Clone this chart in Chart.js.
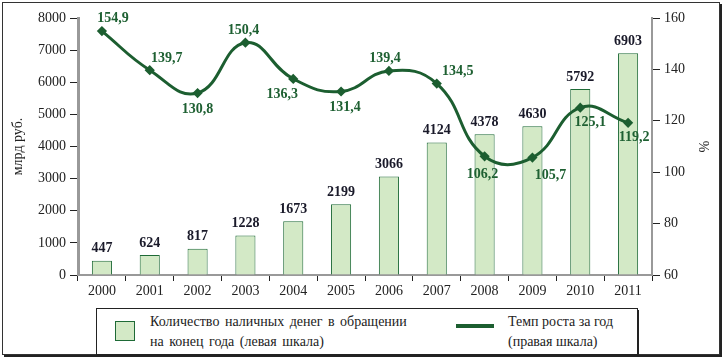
<!DOCTYPE html>
<html>
<head>
<meta charset="utf-8">
<script src="https://cdn.jsdelivr.net/npm/chart.js@4"></script>
<style>
  body { margin: 0; background: #fff; font-family: "Liberation Serif", serif; }
  #frame { position: absolute; left: 2px; top: 2px; width: 716px; height: 351px; border: 1px solid #333; box-shadow: 2px 2px 0 #222; }
  #wrap { position: absolute; left: 0; top: 0; width: 728px; height: 305px; }
  #legend { position: absolute; left: 96px; top: 308px; width: 540px; height: 45px; border: 1px solid #222; box-shadow: 1px 2px 0 #222; font-size: 14px; color: #222; }
  .swatch { position: absolute; left: 18px; top: 12px; width: 18px; height: 18px; background: #d3e9c6; border: 1px solid #1e6a36; }
  .lineSample { position: absolute; left: 359px; top: 15px; width: 38px; height: 4px; background: #1c5e30; }
  .txt { position: absolute; line-height: 20px; }
</style>
</head>
<body>
<div id="frame"></div>
<div id="wrap"><canvas id="chart"></canvas></div>
<div id="legend">
  <div class="swatch"></div>
  <div class="txt" style="left:53px; top:3px; word-spacing:2px;">Количество наличных денег в обращении<br>на конец года (левая шкала)</div>
  <div class="lineSample"></div>
  <div class="txt" style="left:411px; top:3px;">Темп роста за год<br>(правая шкала)</div>
</div>
<script>
// Chart data
const years = ['2000', '2001', '2002', '2003', '2004', '2005', '2006', '2007', '2008', '2009', '2010', '2011'];
const cashAmount = [447, 624, 817, 1228, 1673, 2199, 3066, 4124, 4378, 4630, 5792, 6903];
const growthRate = [154.9, 139.7, 130.8, 150.4, 136.3, 131.4, 139.4, 134.5, 106.2, 105.7, 125.1, 119.2];

// label offsets for the growth line (dx, dy from the point)
const rateLabelOffsets = [[11, -13], [17, -12], [0, 16], [-2, -12], [-11, 15], [4, 16],
  [-4, -13], [21, -12], [-2, 18], [18, 18], [10, 15], [6, 15]];

const fmt = (v) => v.toFixed(1).replace('.', ',');

Chart.defaults.font.family = '"Liberation Serif", serif';

// Draw value labels
const valueLabels = {
  id: 'valueLabels',
  afterDatasetsDraw(chart) {
    const ctx = chart.ctx;
    ctx.save();
    ctx.textAlign = 'center';
    ctx.textBaseline = 'middle';
    ctx.font = 'bold 14px "Liberation Serif"';

    ctx.fillStyle = '#1a1a2a';
    chart.getDatasetMeta(0).data.forEach((bar, i) => {
      ctx.fillText(String(cashAmount[i]), bar.x, bar.y - 12);
    });

    ctx.fillStyle = '#1e6032';
    chart.getDatasetMeta(1).data.forEach((pt, i) => {
      const off = rateLabelOffsets[i];
      ctx.fillText(fmt(growthRate[i]), pt.x + off[0], pt.y + off[1]);
    });
    ctx.restore();
  }
};

const tickFont = { family: '"Liberation Serif", serif', size: 14 };

new Chart(document.getElementById('chart'), {
  type: 'bar',
  data: {
    labels: years,
    datasets: [
      {
        type: 'bar',
        label: 'Количество наличных денег в обращении на конец года (левая шкала)',
        data: cashAmount,
        yAxisID: 'y',
        backgroundColor: '#d3e9c6',
        borderColor: '#1e6a36',
        borderWidth: 1,
        barPercentage: 0.42,
        categoryPercentage: 1,
        order: 2
      },
      {
        type: 'line',
        label: 'Темп роста за год (правая шкала)',
        data: growthRate,
        yAxisID: 'y1',
        borderColor: '#1c5e30',
        backgroundColor: '#1c5e30',
        borderWidth: 3,
        tension: 0.45,
        pointStyle: 'rectRot',
        pointRadius: 3,
        pointHoverRadius: 3,
        order: 1
      }
    ]
  },
  options: {
    responsive: true,
    maintainAspectRatio: false,
    animation: false,
    layout: { padding: { left: 0, right: 0, top: 18, bottom: 0 } },
    plugins: {
      legend: { display: false },
      tooltip: { enabled: false }
    },
    scales: {
      x: {
        offset: true,
        afterFit: (s) => { s.height = 30; },
        grid: { offset: true, drawOnChartArea: false, color: '#222', tickLength: 6 },
        border: { color: '#999', width: 2 },
        ticks: { color: '#222', font: tickFont, padding: 2 }
      },
      y: {
        position: 'left',
        min: 0,
        max: 8000,
        afterFit: (s) => { s.width = 78; },
        ticks: { stepSize: 1000, color: '#222', font: tickFont, padding: 4, callback: (v) => String(v) },
        grid: { drawOnChartArea: false, color: '#222', tickLength: 8 },
        border: { color: '#999', width: 3 },
        title: { display: true, text: 'млрд руб.', color: '#222', font: { family: '"Liberation Serif", serif', size: 14 }, padding: { top: 10, bottom: 0 } }
      },
      y1: {
        position: 'right',
        min: 60,
        max: 160,
        afterFit: (s) => { s.width = 76; },
        ticks: { stepSize: 20, color: '#222', font: tickFont, padding: 4, callback: (v) => String(v) },
        grid: { drawOnChartArea: false, color: '#222', tickLength: 8 },
        border: { color: '#999', width: 2 },
        title: { display: true, text: '%', color: '#222', font: { family: '"Liberation Serif", serif', size: 14 }, padding: { top: 17, bottom: 0 } }
      }
    }
  },
  plugins: [valueLabels]
});
</script>
</body>
</html>
